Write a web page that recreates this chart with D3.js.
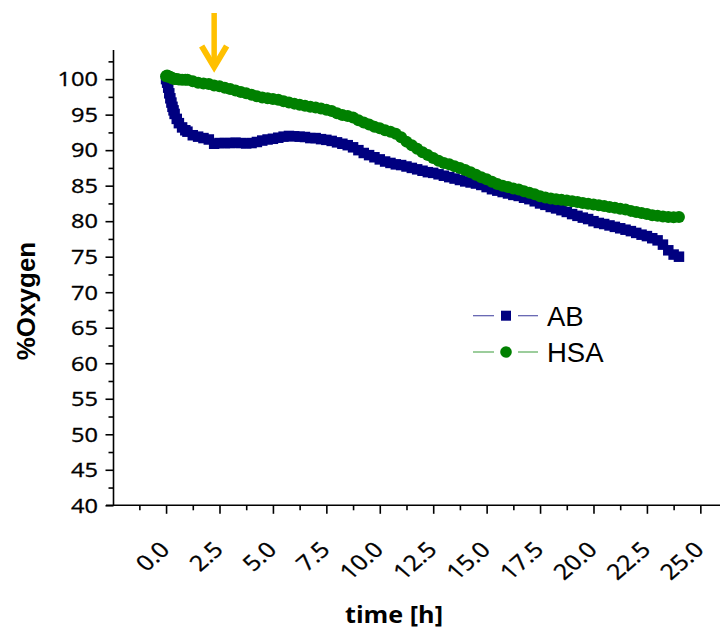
<!DOCTYPE html>
<html>
<head>
<meta charset="utf-8">
<script src="https://cdn.jsdelivr.net/npm/d3@7"></script>
<style>
  html, body { margin: 0; padding: 0; background: #fff; }
  svg { display: block; }
</style>
</head>
<body>
<svg id="chart" width="720" height="635"></svg>
<script>
// Oxygen consumption over time for the two samples
const hours = [
  0.00, 0.05, 0.10, 0.15, 0.20, 0.25, 0.30, 0.35, 0.40, 0.50, 0.60, 0.75,
  0.90, 1.00, 1.25, 1.50, 1.75, 2.00, 2.25, 2.50, 2.75,
  3.00, 3.25, 3.50, 3.75, 4.00, 4.25, 4.50, 4.75, 5.00, 5.25, 5.50, 5.75,
  6.00, 6.25, 6.50, 6.75, 7.00, 7.25, 7.50, 7.75, 8.00, 8.25, 8.50, 8.75,
  9.00, 9.25, 9.50, 9.75, 10.00, 10.25, 10.50, 10.75, 11.00, 11.25, 11.50, 11.75,
  12.00, 12.25, 12.50, 12.75, 13.00, 13.25, 13.50, 13.75, 14.00, 14.25, 14.50, 14.75,
  15.00, 15.25, 15.50, 15.75, 16.00, 16.25, 16.50, 16.75, 17.00, 17.25, 17.50, 17.75,
  18.00, 18.25, 18.50, 18.75, 19.00, 19.25, 19.50, 19.75, 20.00, 20.25, 20.50, 20.75,
  21.00, 21.25, 21.50, 21.75, 22.00, 22.25, 22.50, 22.75, 23.00, 23.25, 23.50, 23.75,
  24.00
];

const abOxygen = [
  100.0, 99.5, 98.8, 98.0, 97.3, 96.7, 96.1, 95.6, 95.1, 94.4, 93.8, 93.2,
  92.8, 92.6, 92.1, 91.9, 91.7, 91.5, 90.9, 91.0, 91.0,
  91.0, 91.05, 91.0, 90.95, 91.0, 91.15, 91.35, 91.5, 91.6, 91.75, 91.9, 92.0,
  91.95, 91.9, 91.85, 91.7, 91.7, 91.55, 91.45, 91.3, 91.1, 90.9, 90.7, 90.4,
  90.0, 89.6, 89.3, 89.0, 88.7, 88.4, 88.2, 88.0, 87.9, 87.7, 87.5, 87.3,
  87.1, 86.9, 86.8, 86.6, 86.4, 86.2, 86.0, 85.8, 85.6, 85.45, 85.3, 85.1,
  84.8, 84.5, 84.3, 84.1, 83.9, 83.7, 83.55, 83.3, 83.1, 82.8, 82.5, 82.3,
  82.0, 81.8, 81.55, 81.3, 81.0, 80.75, 80.5, 80.3, 80.0, 79.75, 79.6, 79.4,
  79.2, 79.0, 78.8, 78.6, 78.35, 78.1, 77.9, 77.6, 77.3, 76.7, 75.9, 75.3,
  75.0
];

const hsaOxygen = [
  100.4, 100.5, 100.4, 100.3, 100.3, 100.2, 100.1, 100.1, 100.0, 100.0, 99.95, 99.9,
  99.9, 99.9, 99.7, 99.5, 99.4, 99.3, 99.1, 99.0, 98.8,
  98.6, 98.4, 98.2, 98.0, 97.8, 97.6, 97.4, 97.3, 97.2, 97.1, 96.9, 96.7,
  96.55, 96.4, 96.25, 96.1, 96.0, 95.85, 95.7, 95.5, 95.2, 94.95, 94.8, 94.6,
  94.2, 93.9, 93.6, 93.3, 93.1, 92.8, 92.6, 92.3, 91.8, 91.2, 90.7, 90.2,
  89.7, 89.3, 88.9, 88.5, 88.2, 88.0, 87.75, 87.5, 87.2, 86.9, 86.55, 86.2,
  85.9, 85.55, 85.25, 85.0, 84.8, 84.6, 84.45, 84.2, 84.0, 83.8, 83.5, 83.35,
  83.2, 83.1, 83.0, 82.9, 82.8, 82.7, 82.55, 82.45, 82.35, 82.25, 82.15, 82.0,
  81.9, 81.75, 81.65, 81.45, 81.3, 81.15, 81.0, 80.85, 80.75, 80.65, 80.6, 80.55,
  80.6
];

const seriesNames = ["AB", "HSA"];
const seriesColors = ["#000080", "#008000"];

const xMajorTicks = [0, 2.5, 5, 7.5, 10, 12.5, 15, 17.5, 20, 22.5, 25];
const xMinorTicks = [-1.25, 1.25, 3.75, 6.25, 8.75, 11.25, 13.75, 16.25, 18.75, 21.25, 23.75];
const yMajorTicks = [40, 45, 50, 55, 60, 65, 70, 75, 80, 85, 90, 95, 100];
const yMinorTicks = [42.5, 47.5, 52.5, 57.5, 62.5, 67.5, 72.5, 77.5, 82.5, 87.5, 92.5, 97.5, 102.5];

const markerTime = 2.25;   // time point flagged by the arrow

// ---- layout ----
const svg = d3.select("#chart");
const axisX = 113.5;       // position of the y axis line
const axisY = 505.3;       // position of the x axis line

const x = d3.scaleLinear().domain([-2.46, 25.92]).range([axisX, 720]);
const y = d3.scaleLinear().domain([40, 104.1]).range([axisY, 50]);

const tickFont = "'Open Sans', 'DejaVu Sans', sans-serif";

// ---- y axis ----
const yAxisG = svg.append("g").attr("transform", `translate(${axisX},0)`);
yAxisG.call(d3.axisLeft(y).tickValues(yMajorTicks).tickSize(8).tickFormat(""));
yAxisG.call(g => g.select(".domain").remove());
const yMinorG = svg.append("g").attr("transform", `translate(${axisX},0)`);
yMinorG.call(d3.axisLeft(y).tickValues(yMinorTicks).tickSize(5).tickFormat(""));
yMinorG.call(g => g.select(".domain").remove());

svg.append("line")
  .attr("x1", axisX).attr("x2", axisX)
  .attr("y1", 50).attr("y2", axisY + 0.8)
  .attr("stroke", "#000").attr("stroke-width", 1.6);

svg.append("g").selectAll("text")
  .data(yMajorTicks)
  .join("text")
  .attr("transform", d => `translate(98,${y(d) + 7.3}) scale(1.15,1)`)
  .attr("text-anchor", "end")
  .attr("font-family", tickFont)
  .attr("font-size", 20.5)
  .attr("fill", "#000")
  .attr("stroke", "#000")
  .attr("stroke-width", 0.35)
  .text(d => d);

// ---- x axis ----
const xAxisG = svg.append("g").attr("transform", `translate(0,${axisY})`);
xAxisG.call(d3.axisBottom(x).tickValues(xMajorTicks).tickSize(8.5).tickFormat(""));
xAxisG.call(g => g.select(".domain").remove());
const xMinorG = svg.append("g").attr("transform", `translate(0,${axisY})`);
xMinorG.call(d3.axisBottom(x).tickValues(xMinorTicks).tickSize(5).tickFormat(""));
xMinorG.call(g => g.select(".domain").remove());

svg.append("line")
  .attr("x1", 106).attr("x2", 720)
  .attr("y1", axisY).attr("y2", axisY)
  .attr("stroke", "#000").attr("stroke-width", 1.6);

svg.selectAll(".tick line").attr("stroke", "#000").attr("stroke-width", 1.6);

const fmt = d3.format(".1f");
svg.append("g").selectAll("text")
  .data(xMajorTicks)
  .join("text")
  .attr("transform", d => `translate(${x(d) + 5},551) scale(1.15,1) rotate(-45)`)
  .attr("text-anchor", "end")
  .attr("font-family", tickFont)
  .attr("font-size", 21.5)
  .attr("fill", "#000")
  .attr("stroke", "#000")
  .attr("stroke-width", 0.35)
  .text(d => fmt(d));

// ---- axis titles ----
svg.append("text")
  .attr("transform", "translate(394,623) scale(1.12,1)")
  .attr("text-anchor", "middle")
  .attr("font-family", tickFont)
  .attr("font-weight", "bold")
  .attr("font-size", 22.5)
  .attr("fill", "#000")
  .text("time [h]");

svg.append("text")
  .attr("transform", "translate(35,301) rotate(-90)")
  .attr("text-anchor", "middle")
  .attr("font-family", "'Liberation Sans', Arial, sans-serif")
  .attr("font-weight", "bold")
  .attr("font-size", 26)
  .attr("fill", "#000")
  .text("%Oxygen");

// ---- data ----
const abPoints = hours.map((t, i) => ({ t, v: abOxygen[i] }));
const hsaPoints = hours.map((t, i) => ({ t, v: hsaOxygen[i] }));

const line = d3.line().x(d => x(d.t)).y(d => y(d.v));

const abG = svg.append("g");
abG.append("path")
  .datum(abPoints)
  .attr("d", line)
  .attr("fill", "none")
  .attr("stroke", seriesColors[0])
  .attr("stroke-width", 1);
const sq = 10.5;
abG.selectAll("rect")
  .data(abPoints)
  .join("rect")
  .attr("x", d => x(d.t) - sq / 2)
  .attr("y", d => y(d.v) - sq / 2)
  .attr("width", sq)
  .attr("height", sq)
  .attr("fill", seriesColors[0]);

const hsaG = svg.append("g");
hsaG.append("path")
  .datum(hsaPoints)
  .attr("d", line)
  .attr("fill", "none")
  .attr("stroke", seriesColors[1])
  .attr("stroke-width", 1);
hsaG.selectAll("circle")
  .data(hsaPoints)
  .join("circle")
  .attr("cx", d => x(d.t))
  .attr("cy", d => y(d.v))
  .attr("r", 6)
  .attr("fill", seriesColors[1]);

// ---- arrow marking the addition time ----
const ax = x(markerTime);
const arrowColor = "#FFC000";
svg.append("line")
  .attr("x1", ax).attr("x2", ax)
  .attr("y1", 13).attr("y2", 64)
  .attr("stroke", arrowColor).attr("stroke-width", 5.5);
svg.append("polyline")
  .attr("points", `${ax - 12.5},46 ${ax},67 ${ax + 12.5},46`)
  .attr("fill", "none")
  .attr("stroke", arrowColor)
  .attr("stroke-width", 6)
  .attr("stroke-linejoin", "miter");

// ---- legend ----
const legend = svg.append("g");
const legendRows = [
  { name: seriesNames[0], color: seriesColors[0], cy: 315.7, shape: "square", base: 326 },
  { name: seriesNames[1], color: seriesColors[1], cy: 352, shape: "circle", base: 361.7 }
];
legendRows.forEach(r => {
  [[473, 494], [518, 538]].forEach(([a, b]) => {
    legend.append("line")
      .attr("x1", a).attr("x2", b)
      .attr("y1", r.cy).attr("y2", r.cy)
      .attr("stroke", r.color)
      .attr("stroke-opacity", 0.65)
      .attr("stroke-width", 1.2);
  });
  if (r.shape === "square") {
    legend.append("rect")
      .attr("x", 506 - 5).attr("y", r.cy - 5)
      .attr("width", 10).attr("height", 10)
      .attr("fill", r.color);
  } else {
    legend.append("circle")
      .attr("cx", 506).attr("cy", r.cy).attr("r", 5.8)
      .attr("fill", r.color);
  }
  legend.append("text")
    .attr("x", 547).attr("y", r.base)
    .attr("font-family", "'Liberation Sans', Arial, sans-serif")
    .attr("font-size", 27.5)
    .attr("fill", "#000")
    .text(r.name);
});
</script>
</body>
</html>
